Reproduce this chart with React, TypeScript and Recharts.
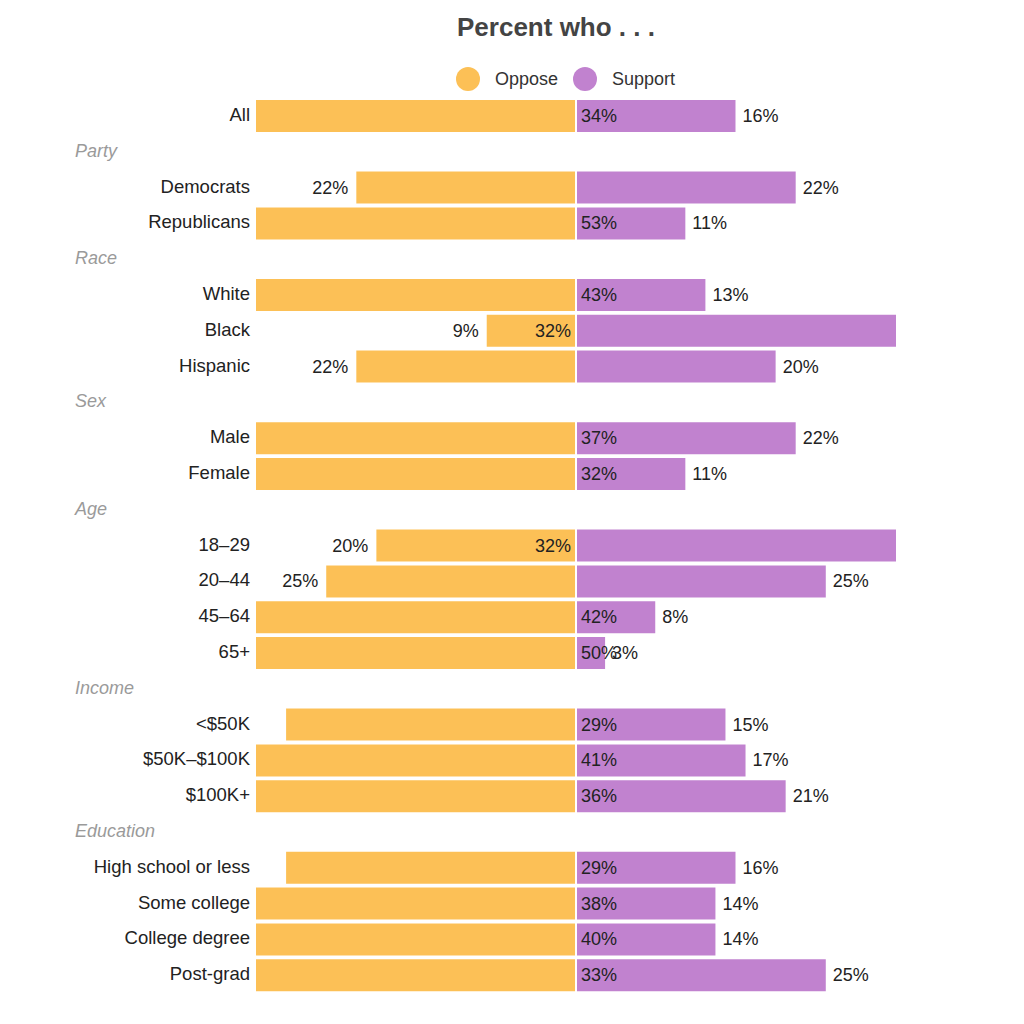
import { BarChart, Bar, XAxis, YAxis, LabelList, Legend } from "recharts";

const categories = [
  "All",
  "Party", "Democrats", "Republicans",
  "Race", "White", "Black", "Hispanic",
  "Sex", "Male", "Female",
  "Age", "18–29", "20–44", "45–64", "65+",
  "Income", "<$50K", "$50K–$100K", "$100K+",
  "Education", "High school or less", "Some college", "College degree", "Post-grad",
];

const groupHeaders = ["Party", "Race", "Sex", "Age", "Income", "Education"];

const oppose = [34, null, 22, 53, null, 43, 9, 22, null, 37, 32, null, 20, 25, 42, 50, null, 29, 41, 36, null, 29, 38, 40, 33];
const support = [16, null, 22, 11, null, 13, 32, 20, null, 22, 11, null, 32, 25, 8, 3, null, 15, 17, 21, null, 16, 14, 14, 25];

const OPPOSE_COLOR = "#fcc056";
const SUPPORT_COLOR = "#c182cf";
const FONT = "'Liberation Sans', Arial, sans-serif";

const W = 1024;
const H = 1024;
const MARGIN = { top: 98, right: 127, bottom: 31, left: 0 };
const Y_AXIS_W = 255;
const PLOT_LEFT = MARGIN.left + Y_AXIS_W;
const PLOT_RIGHT = W - MARGIN.right;

const data = categories.map((name, i) => ({
  name,
  oppose: oppose[i] == null ? null : -(oppose[i] as number),
  support: support[i],
  opposeRaw: oppose[i],
  supportRaw: support[i],
}));

const labelWidth = (text: string) => text.length * 10;

function CategoryTick(props: any) {
  const { y, payload } = props;
  const name = payload.value as string;
  if (groupHeaders.includes(name)) {
    return (
      <text x={75} y={y} dy={5} textAnchor="start" fontFamily={FONT} fontSize={18} fontStyle="italic" fill="#9a9a9a">
        {name}
      </text>
    );
  }
  return (
    <text x={250} y={y} dy={5} textAnchor="end" fontFamily={FONT} fontSize={18.5} fill="#222">
      {name}
    </text>
  );
}

function OpposeLabel(props: any) {
  const { x, y, width, height, value } = props;
  if (value == null) return null;
  const left = Math.min(x, x + width);
  const zero = Math.max(x, x + width);
  const text = `${value}%`;
  const cy = y + height / 2;
  const outside = left - 7 - labelWidth(text) >= PLOT_LEFT;
  return (
    <text
      x={outside ? left - 7 : zero + 5}
      y={cy}
      dy={6}
      textAnchor={outside ? "end" : "start"}
      fontFamily={FONT}
      fontSize={18}
      fill="#222"
    >
      {text}
    </text>
  );
}

function SupportLabel(props: any) {
  const { x, y, width, height, value } = props;
  if (value == null) return null;
  const zero = Math.min(x, x + width);
  const right = Math.max(x, x + width);
  const text = `${value}%`;
  const cy = y + height / 2;
  const outside = right + 6 + labelWidth(text) <= PLOT_RIGHT;
  return (
    <text
      x={outside ? right + 6 : zero - 5}
      y={cy}
      dy={6}
      textAnchor={outside ? "start" : "end"}
      fontFamily={FONT}
      fontSize={18}
      fill="#222"
    >
      {text}
    </text>
  );
}

function LegendContent(props: any) {
  const items = props.payload || [];
  return (
    <div style={{ display: "flex", alignItems: "center", fontFamily: FONT, fontSize: 18, color: "#333" }}>
      {items.map((item: any) => (
        <div key={item.value} style={{ display: "flex", alignItems: "center", marginRight: 15 }}>
          <span style={{ width: 24, height: 24, borderRadius: 12, background: item.color, display: "inline-block" }} />
          <span style={{ marginLeft: 15 }}>{item.value}</span>
        </div>
      ))}
    </div>
  );
}

export default function App() {
  return (
    <div style={{ position: "relative", width: W, height: H, background: "#fff", fontFamily: FONT }}>
      <style>{"body{margin:0}"}</style>
      <div
        style={{
          position: "absolute",
          left: 0,
          width: 1112,
          top: 14,
          textAlign: "center",
          fontSize: 26,
          lineHeight: "26px",
          fontWeight: 700,
          color: "#444",
          fontFamily: FONT,
        }}
      >
        Percent who . . .
      </div>
      <BarChart
        width={W}
        height={H}
        data={data}
        layout="vertical"
        stackOffset="sign"
        margin={MARGIN}
      >
        <XAxis type="number" hide domain={[-32, 32]} allowDataOverflow />
        <YAxis
          type="category"
          dataKey="name"
          width={Y_AXIS_W}
          axisLine={false}
          tickLine={false}
          interval={0}
          tick={<CategoryTick />}
        />
        <Legend
          layout="horizontal"
          verticalAlign="middle"
          align="center"
          content={<LegendContent />}
          wrapperStyle={{ top: 67, left: 456, width: "auto" }}
        />
        <Bar
          dataKey="oppose"
          name="Oppose"
          stackId="a"
          fill={OPPOSE_COLOR}
          stroke="#fff"
          strokeWidth={2}
          barSize={34}
          isAnimationActive={false}
        >
          <LabelList dataKey="opposeRaw" content={<OpposeLabel />} />
        </Bar>
        <Bar
          dataKey="support"
          name="Support"
          stackId="a"
          fill={SUPPORT_COLOR}
          stroke="#fff"
          strokeWidth={2}
          barSize={34}
          isAnimationActive={false}
        >
          <LabelList dataKey="supportRaw" content={<SupportLabel />} />
        </Bar>
      </BarChart>
    </div>
  );
}
